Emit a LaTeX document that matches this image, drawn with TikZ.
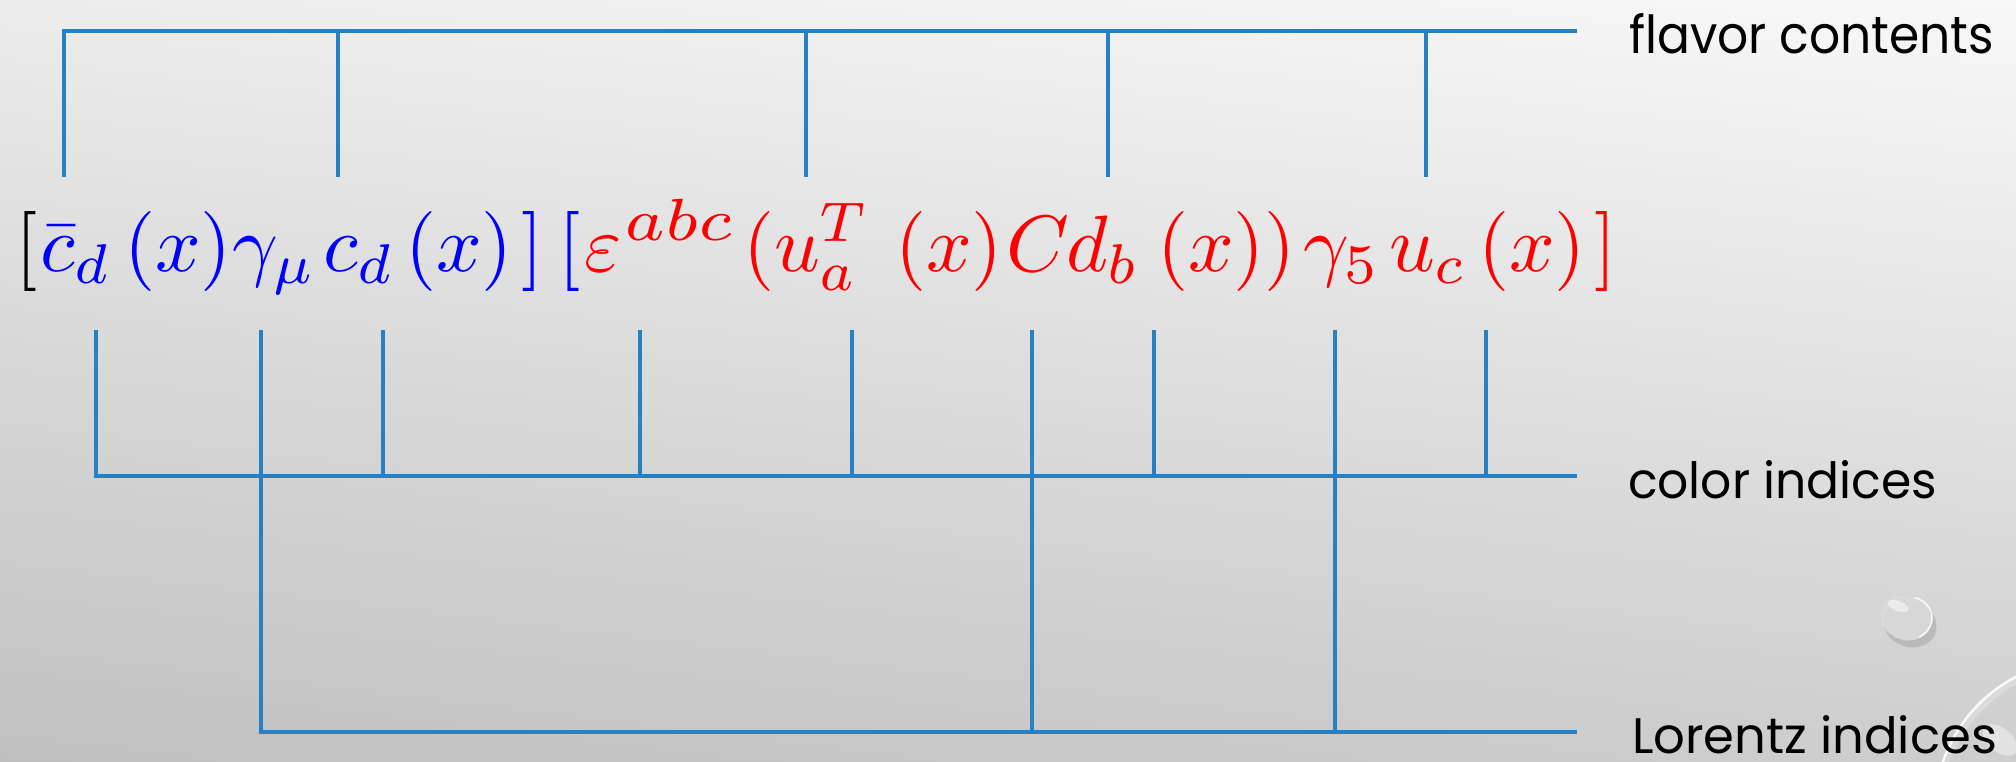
\documentclass[tikz,border=0pt]{standalone}
\usepackage{fontspec}
\usepackage{graphicx}
\usetikzlibrary{shadings}
\newfontfamily\labelfont{Poppins}
\newcommand{\fpc}[1]{\scalebox{8}{$#1$}}
\definecolor{linecol}{RGB}{41,128,192}
\definecolor{mblue}{RGB}{0,0,255}
\definecolor{mred}{RGB}{255,0,0}
\definecolor{bgul}{RGB}{236,236,236}
\definecolor{bgur}{RGB}{248,248,248}
\definecolor{bgll}{RGB}{192,192,192}
\definecolor{bglr}{RGB}{206,206,206}
\tikzset{
  idxline/.style={draw=linecol, line width=3.5pt, line join=miter},
  fpiece/.style={anchor=base west, inner sep=0pt, outer sep=0pt},
  lbl/.style={anchor=base west, inner sep=0pt, outer sep=0pt}
}
\begin{document}
\begin{tikzpicture}[x=1pt,y=-1pt]
\useasboundingbox (0,0) rectangle (2016,761);
% background
\shade[upper left=bgul, upper right=bgur, lower left=bgll, lower right=bglr] (0,0) rectangle (2016,761);
% droplets
\begin{scope}
\clip (0,0) rectangle (2016,761);
\fill[black, opacity=0.12] (1910,624) ellipse [x radius=27, y radius=23, rotate=-20];
\fill[gray!28, opacity=0.9] (1906,618) ellipse [x radius=26, y radius=22, rotate=-20];
\draw[white, opacity=0.9, line width=1.5pt] (1906,618) ++(-70:26 and 22) arc[start angle=-70, end angle=60, x radius=26, y radius=22];
\fill[white, opacity=0.5] (1898,606) ellipse [x radius=11, y radius=5, rotate=-20];
\fill[black, opacity=0.06] (2089,816) circle (150);
\fill[white, opacity=0.22] (2085,810) circle (150);
\draw[white, opacity=0.9, line width=2.5pt] (2085,810) ++(188:150) arc[start angle=188, end angle=255, radius=150];
\fill[white, opacity=0.4] (2000,740) ellipse [x radius=20, y radius=12, rotate=-40];
\end{scope}
% formula
\node[fpiece, text=black] (p1) at (16,271) {\fpc{[}};
\node[fpiece, text=mblue] (p2) at (40,271) {\fpc{\bar{c}_d}};
\node[fpiece, text=mblue] (p3) at (124,271) {\fpc{(x)}};
\node[fpiece, text=mblue] (p4) at (232,271) {\fpc{\gamma_\mu}};
\node[fpiece, text=mblue] (p5) at (323,271) {\fpc{c_d}};
\node[fpiece, text=mblue] (p6) at (405,271) {\fpc{(x)}};
\node[fpiece, text=mblue] (p7) at (521,271) {\fpc{]}};
\node[fpiece, text=mblue] (p8) at (558,271) {\fpc{[}};
\node[fpiece, text=mred] (p9) at (584,271) {\fpc{\varepsilon}};
\node[fpiece, text=mred] (p9s) at (624,271) {\scalebox{9.5}[8.5]{$^{abc}$}};
\node[fpiece, text=mred] (p10) at (743,271) {\fpc{(u_a^T}};
\node[fpiece, text=mred] (p11) at (895,271) {\fpc{(x)}};
\node[fpiece, text=mred] (p12) at (1006,271) {\fpc{C}};
\node[fpiece, text=mred] (p13) at (1066,271) {\fpc{d_b}};
\node[fpiece, text=mred] (p14) at (1157,271) {\fpc{(x))}};
\node[fpiece, text=mred] (p15) at (1303,271) {\fpc{\gamma_5}};
\node[fpiece, text=mred] (p16) at (1389,271) {\fpc{u_c}};
\node[fpiece, text=mred] (p17) at (1478,271) {\fpc{(x)}};
\node[fpiece, text=mred] (p18) at (1594,271) {\fpc{]}};
% flavor contents
\foreach \x [count=\i] in {64,338,806,1108,1426} {
  \coordinate (fa\i) at (\x,31);
  \coordinate (fb\i) at (\x,177);
}
\coordinate (fend) at (1577,31);
\draw[idxline] (fb1) -- (fa1) -- (fend);
\foreach \i in {2,...,5} { \draw[idxline] (fa\i) -- (fb\i); }
% color indices
\foreach \x [count=\i] in {96,383,640,852,1154,1486} {
  \coordinate (ca\i) at (\x,330);
  \coordinate (cb\i) at (\x,476);
}
\coordinate (cend) at (1577,476);
\draw[idxline] (ca1) -- (cb1) -- (cend);
\foreach \i in {2,...,6} { \draw[idxline] (ca\i) -- (cb\i); }
% Lorentz indices
\foreach \x [count=\i] in {261,1032,1335} {
  \coordinate (la\i) at (\x,330);
  \coordinate (lb\i) at (\x,732);
}
\coordinate (lend) at (1577,732);
\draw[idxline] (la1) -- (lb1) -- (lend);
\foreach \i in {2,3} { \draw[idxline] (la\i) -- (lb\i); }
% labels
\node[lbl] (lf) at (1629,53) {\resizebox{365pt}{40pt}{\labelfont flavor contents}};
\node[lbl] (lc) at (1628,498) {\resizebox{309pt}{38pt}{\labelfont color indices}};
\node[lbl] (ll) at (1632,753) {\resizebox{365pt}{38pt}{\labelfont Lorentz indices}};
\end{tikzpicture}
\end{document}
